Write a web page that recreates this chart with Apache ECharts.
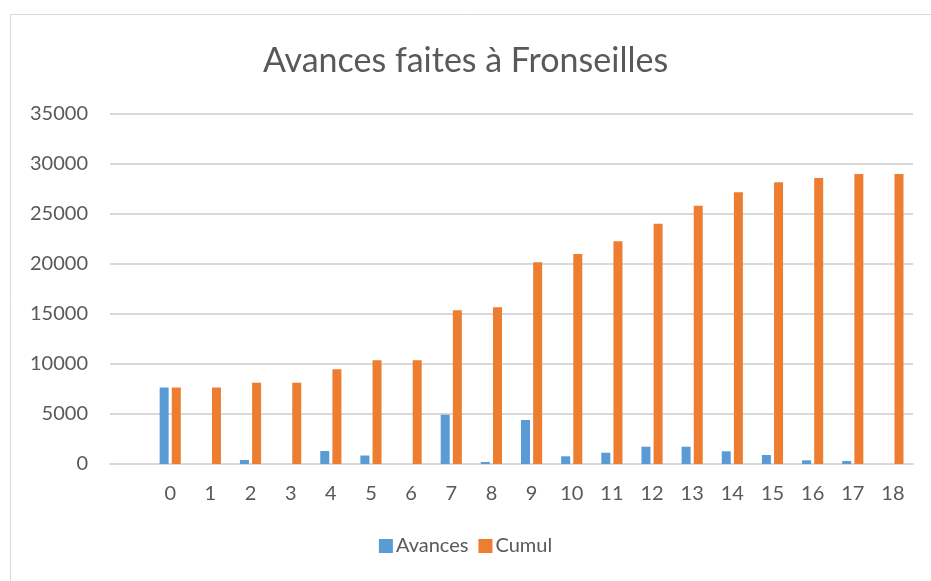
<!DOCTYPE html>
<html>
<head>
<meta charset="utf-8">
<script src="https://cdn.jsdelivr.net/npm/echarts@6/dist/echarts.min.js"></script>
<style>
  html, body { margin: 0; padding: 0; background: #fff; }
  #chart { width: 931px; height: 581px; }
</style>
</head>
<body>
<div id="chart"></div>
<script>
// first category is an empty row in the source sheet
const categories = ['', '0', '1', '2', '3', '4', '5', '6', '7', '8', '9', '10', '11', '12', '13', '14', '15', '16', '17', '18']
const avances = [null, 7650, 0, 400, 0, 1300, 850, 0, 4930, 200, 4400, 770, 1130, 1730, 1730, 1270, 900, 370, 300, 0]
const cumul = [null, 7650, 7650, 8130, 8130, 9470, 10370, 10370, 15370, 15670, 20170, 21000, 22270, 24030, 25830, 27170, 28170, 28600, 29000, 29000]

const chart = echarts.init(document.getElementById('chart'))
chart.setOption({
  animation: false,
  textStyle: { fontFamily: 'Lato, "Open Sans", sans-serif' },
  graphic: [
    {
      type: 'rect',
      shape: { x: 10.5, y: 14.5, width: 940, height: 600 },
      style: { fill: 'none', stroke: '#d9d9d9', lineWidth: 1 }
    }
  ],
  title: {
    text: 'Avances faites à Fronseilles',
    left: 'center',
    top: 39,
    textStyle: { fontSize: 34, fontWeight: 'normal', color: '#595959' }
  },
  legend: {
    bottom: 20,
    left: 'center',
    itemWidth: 14,
    itemHeight: 14,
    itemGap: 10,
    icon: 'rect',
    textStyle: { fontSize: 20, color: '#595959', padding: [0, 0, 0, -2] },
    data: ['Avances', 'Cumul']
  },
  grid: { left: 110, right: 18, top: 114, bottom: 117 },
  xAxis: {
    type: 'category',
    data: categories,
    axisLine: { lineStyle: { color: '#d9d9d9', width: 2 } },
    axisTick: { show: false },
    axisLabel: { fontSize: 20, color: '#595959', margin: 20 }
  },
  yAxis: {
    type: 'value',
    min: 0,
    max: 35000,
    interval: 5000,
    axisLine: { show: false },
    axisTick: { show: false },
    axisLabel: { fontSize: 20, color: '#595959', margin: 22, formatter: v => String(v) },
    splitLine: { lineStyle: { color: '#d9d9d9', width: 2 } }
  },
  series: [
    {
      name: 'Avances',
      type: 'bar',
      barWidth: 9,
      barGap: '35%',
      itemStyle: { color: '#5b9bd5' },
      data: avances
    },
    {
      name: 'Cumul',
      type: 'bar',
      barWidth: 9,
      barGap: '35%',
      itemStyle: { color: '#ed7d31' },
      data: cumul
    }
  ]
})
</script>
</body>
</html>
